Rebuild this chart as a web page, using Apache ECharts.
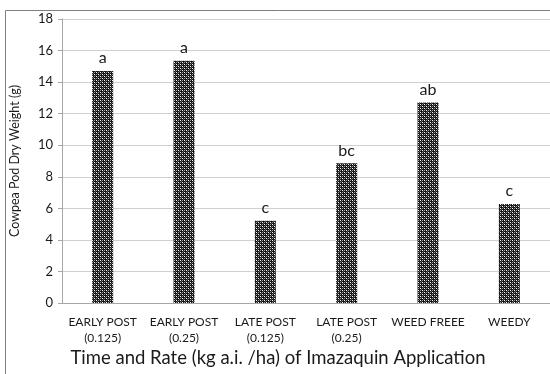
<!DOCTYPE html>
<html>
<head>
<meta charset="utf-8">
<script src="https://cdn.jsdelivr.net/npm/echarts@6/dist/echarts.min.js"></script>
<style>html,body{margin:0;padding:0;background:#fff}#c{width:550px;height:374px}</style>
</head>
<body>
<div id="c"></div>
<script>
var categories = ['EARLY POST\n(0.125)', 'EARLY POST\n(0.25)', 'LATE POST\n(0.125)', 'LATE POST\n(0.25)', 'WEED FREEE', 'WEEDY'];
var podWeight = [14.7, 15.35, 5.22, 8.85, 12.7, 6.27];
var letters = ['a', 'a', 'c', 'bc', 'ab', 'c'];
var yTicks = [0, 2, 4, 6, 8, 10, 12, 14, 16, 18];

function makePattern() {
  var c = document.createElement('canvas');
  c.width = 4; c.height = 4;
  var ctx = c.getContext('2d');
  ctx.fillStyle = '#151515';
  ctx.fillRect(0, 0, 4, 4);
  ctx.fillStyle = '#ffffff';
  ctx.fillRect(0, 0, 1, 1);
  ctx.fillRect(2, 2, 1, 1);
  ctx.fillStyle = '#9a9a9a';
  ctx.fillRect(2, 0, 1, 1);
  ctx.fillRect(0, 2, 1, 1);
  ctx.fillStyle = '#5a5a5a';
  ctx.fillRect(1, 1, 1, 1);
  ctx.fillRect(3, 3, 1, 1);
  return c;
}

var chart = echarts.init(document.getElementById('c'), null, {renderer: 'canvas'});
var FONT = 'Lato';
chart.setOption({
  animation: false,
  textStyle: {fontFamily: FONT},
  grid: {left: 56, top: 19, width: 510, height: 284, containLabel: false},
  graphic: [
    {type: 'rect', shape: {x: 5.5, y: 10.5, width: 600, height: 400}, style: {fill: 'none', stroke: '#7f7f7f', lineWidth: 1}, silent: true, z: -1},
    {type: 'text', x: 278, y: 358, style: {text: 'Time and Rate (kg a.i. /ha) of Imazaquin Application', font: '18.5px Lato', fill: '#1a1a1a', align: 'center', verticalAlign: 'middle'}}
  ],
  xAxis: {
    type: 'category',
    data: categories,
    axisLine: {lineStyle: {color: '#a6a6a6'}},
    axisTick: {show: false},
    axisLabel: {color: '#1a1a1a', fontSize: 12, fontFamily: FONT, margin: 11, lineHeight: 16, interval: 0}
  },
  yAxis: {
    type: 'value',
    min: yTicks[0], max: yTicks[yTicks.length - 1], interval: 2,
    name: 'Cowpea Pod Dry Weight (g)',
    nameLocation: 'middle',
    nameGap: 41,
    nameTextStyle: {color: '#1a1a1a', fontSize: 12.5, fontFamily: FONT},
    axisLine: {show: true, lineStyle: {color: '#a6a6a6'}},
    axisTick: {show: true, length: 4, lineStyle: {color: '#a6a6a6'}},
    axisLabel: {color: '#1a1a1a', fontSize: 13, fontFamily: FONT, margin: 9},
    splitLine: {lineStyle: {color: '#d0d0d0'}}
  },
  series: [{
    type: 'bar',
    data: podWeight,
    barWidth: 21,
    itemStyle: {color: {image: makePattern(), repeat: 'repeat'}},
    label: {
      show: true, position: 'top', distance: 5,
      fontSize: 16, color: '#1a1a1a', fontFamily: FONT,
      formatter: function (p) { return letters[p.dataIndex]; }
    }
  }]
});
</script>
</body>
</html>
